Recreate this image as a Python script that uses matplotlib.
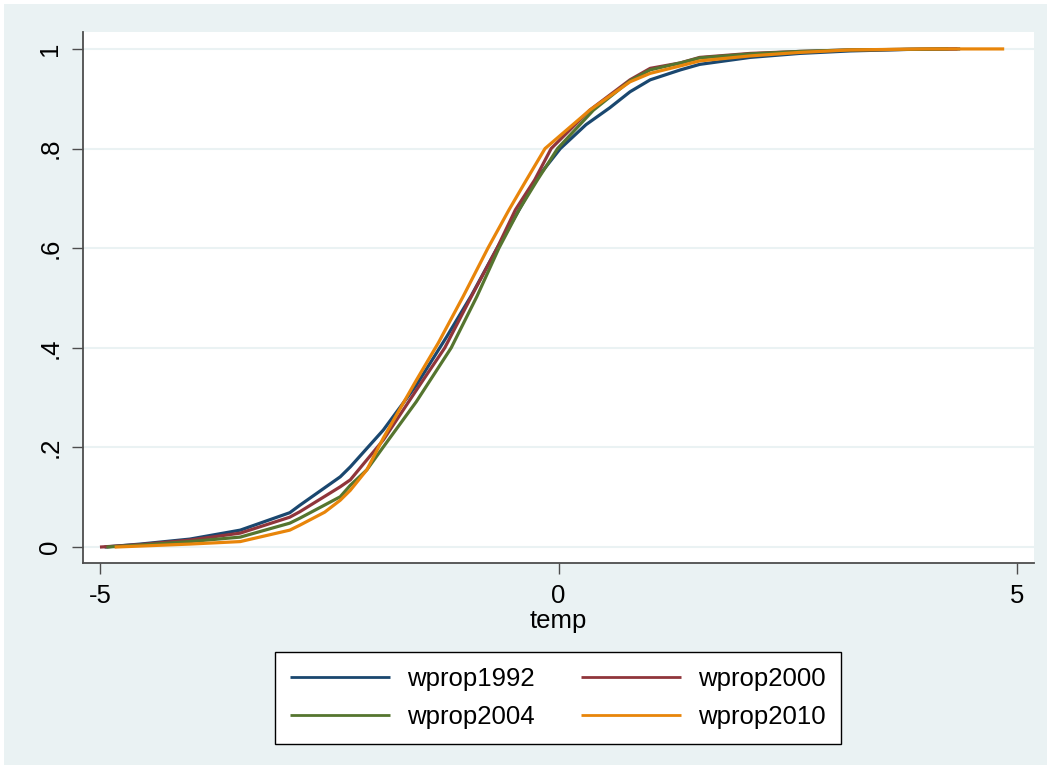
import numpy as np
import matplotlib
matplotlib.use("Agg")
import matplotlib.pyplot as plt
from matplotlib.patches import Rectangle

plt.rcParams['font.family'] = ['Liberation Sans', 'DejaVu Sans']

# cumulative shares (x = temp, y = cumulative proportion)
x1992 = [-4.95, -4.56, -4.02, -3.47, -2.93, -2.82, -2.38, -2.27, -1.91, -1.55, -1.22, -0.95,
         -0.67, -0.43, -0.25, 0.02, 0.30, 0.56, 0.78, 1.00, 1.33, 1.54, 2.09, 2.63, 3.18, 3.80, 4.38]
y1992 = [0.0, 0.006, 0.016, 0.034, 0.069, 0.084, 0.141, 0.161, 0.235, 0.325, 0.422, 0.505,
         0.600, 0.677, 0.737, 0.800, 0.848, 0.882, 0.914, 0.938, 0.958, 0.969, 0.983, 0.991, 0.996, 0.999, 1.0]

x2000 = [-5.0, -4.56, -4.02, -3.47, -2.93, -2.82, -2.38, -2.27, -1.91, -1.55, -1.24, -0.95,
         -0.67, -0.47, -0.26, -0.08, 0.34, 0.78, 1.00, 1.33, 1.54, 2.09, 2.63, 3.18, 4.35]
y2000 = [0.0, 0.005, 0.014, 0.028, 0.060, 0.071, 0.121, 0.135, 0.215, 0.315, 0.400, 0.503,
         0.600, 0.677, 0.737, 0.800, 0.877, 0.938, 0.961, 0.972, 0.983, 0.991, 0.995, 0.998, 1.0]

x2004 = [-4.93, -4.56, -4.02, -3.47, -2.93, -2.82, -2.38, -2.27, -2.09, -1.91, -1.55, -1.17, -0.89,
         -0.65, -0.43, -0.23, -0.01, 0.38, 0.78, 1.00, 1.33, 1.54, 2.09, 2.63, 3.18, 4.25]
y2004 = [0.0, 0.004, 0.011, 0.020, 0.048, 0.058, 0.101, 0.124, 0.155, 0.201, 0.292, 0.400, 0.503,
         0.600, 0.677, 0.737, 0.800, 0.877, 0.936, 0.958, 0.972, 0.982, 0.990, 0.995, 0.998, 1.0]

x2010 = [-4.84, -4.56, -4.02, -3.47, -2.93, -2.82, -2.55, -2.38, -2.27, -2.09, -1.91, -1.55, -1.31, -1.04,
         -0.77, -0.54, -0.35, -0.147, 0.34, 0.78, 1.00, 1.33, 1.54, 2.09, 2.63, 3.18, 4.00, 4.86]
y2010 = [0.0, 0.002, 0.006, 0.011, 0.034, 0.044, 0.070, 0.094, 0.114, 0.155, 0.219, 0.335, 0.410, 0.503,
         0.600, 0.677, 0.737, 0.800, 0.877, 0.934, 0.951, 0.966, 0.976, 0.986, 0.993, 0.998, 1.0, 1.0]

labels = ['wprop1992', 'wprop2000', 'wprop2004', 'wprop2010']
colors = ['#1A476F', '#90353B', '#55752F', '#E8850A']

bg = '#EAF2F3'

fig = plt.figure(figsize=(10.51, 7.69), dpi=100, facecolor='white')
fig.patches.append(Rectangle((4 / 1051, 4 / 769), 1 - 8 / 1051, 1 - 8 / 769,
                             transform=fig.transFigure, facecolor=bg, edgecolor='none', zorder=-10))

ax = fig.add_axes([83 / 1051, 1 - 563 / 769, (1034 - 83) / 1051, (563 - 32) / 769])
ax.set_facecolor('white')

lines = []
for xs, ys, c, lab in zip([x1992, x2000, x2004, x2010], [y1992, y2000, y2004, y2010], colors, labels):
    ln, = ax.plot(xs, ys, color=c, lw=2.3, label=lab, solid_capstyle='butt')
    lines.append(ln)

ax.set_xlim(-5.185, 5.185)
ax.set_ylim(-0.032, 1.034)

ax.set_yticks([0, 0.2, 0.4, 0.6, 0.8, 1])
ax.set_yticklabels(['0', '.2', '.4', '.6', '.8', '1'], rotation=90, va='center')
ax.set_xticks([-5, 0, 5])
ax.set_xticklabels(['-5', '0', '5'])
ax.tick_params(axis='both', labelsize=18.5, length=8, width=1, color='#4d4d4d', pad=7)
ax.grid(axis='y', color=bg, lw=1.5)
ax.set_axisbelow(True)

for s in ['top', 'right']:
    ax.spines[s].set_visible(False)
for s in ['left', 'bottom']:
    ax.spines[s].set_color('#4d4d4d')
    ax.spines[s].set_linewidth(1.3)

ax.set_xlabel('temp', fontsize=18.5, labelpad=1)

# row-wise legend order like Stata: 1992 2000 / 2004 2010
order = [0, 2, 1, 3]
leg = fig.legend([lines[i] for i in order], [labels[i] for i in order],
                 loc='center', bbox_to_anchor=(558 / 1051, 1 - 698 / 769), ncol=2,
                 fontsize=18.5, frameon=True, fancybox=False, handlelength=3.9,
                 handletextpad=0.66, columnspacing=1.8, labelspacing=0.55, borderpad=0.6)
leg.get_frame().set_edgecolor('black')
leg.get_frame().set_linewidth(1.0)
leg.get_frame().set_facecolor('white')
leg.get_frame().set_alpha(1)
for h in leg.get_lines():
    h.set_linewidth(2)

fig.savefig('out.png', dpi=100, facecolor=fig.get_facecolor())
